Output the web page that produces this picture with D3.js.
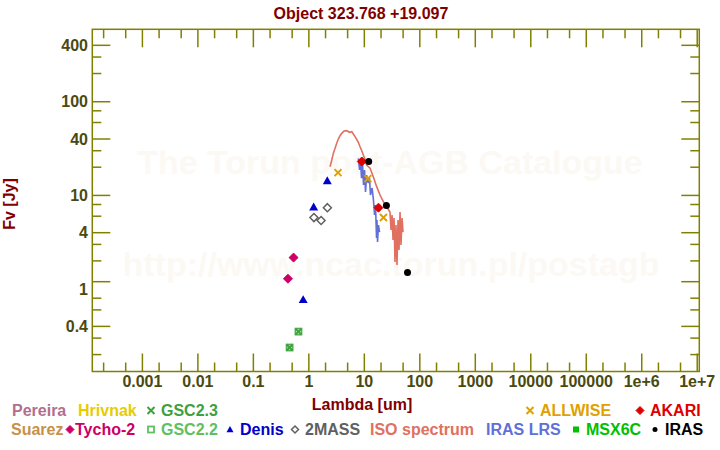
<!DOCTYPE html>
<html lang="en">
	<head>
		<meta charset="UTF-8" />
		<title>Object 323.768 +19.097</title>
		<script src="https://d3js.org/d3.v7.min.js"></script>
		<style>
			body { margin: 0; background: #fff; }
			text { font-family: "Liberation Sans", Arial, sans-serif; font-weight: bold; }
		</style>
	</head>
	<body></body>

	<script>
		var title = "Object 323.768 +19.097";

		// axes
		var xMajor = [1e-3, 1e-2, 1e-1, 1, 10, 100, 1e3, 1e4, 1e5, 1e6, 1e7];
		var xTickLabels = ["0.001", "0.01", "0.1", "1", "10", "100", "1000", "10000", "100000", "1e+6", "1e+7"];
		var yMajor = [400, 100, 40, 10, 4, 1.2, 0.4];
		var yMinor = [300, 200, 80, 60, 30, 20, 8, 6, 3, 2, 0.8, 0.6, 0.3, 0.2];
		var yLabelValues = [400, 100, 40, 10, 4, 1, 0.4];
		var yTickLabels = ["400", "100", "40", "10", "4", "1", "0.4"];

		// photometry (wavelength um, flux Jy)
		var tychoWave = [0.42, 0.53];
		var tychoFlux = [1.29, 2.17];
		var gscWave = [0.45, 0.65];
		var gsc22Flux = [0.238, 0.352];
		var gsc23Flux = [0.238, 0.352];
		var denisWave = [0.79, 1.22, 2.15];
		var denisFlux = [0.77, 7.5, 14.3];
		var twomassWave = [1.235, 1.662, 2.159];
		var twomassFlux = [5.8, 5.4, 7.4];
		var allwiseWave = [3.35, 11.56, 22.09];
		var allwiseFlux = [17.5, 15.1, 5.8];
		var akariWave = [9, 18];
		var akariFlux = [23, 7.4];
		var irasWave = [12, 25, 60];
		var irasFlux = [23, 7.8, 1.5];

		// spectra
		var isoWave = [2.41, 2.59, 2.76, 2.97, 3.18, 3.40, 3.65, 3.92, 4.31, 4.82, 5.37, 5.93, 6.34, 6.80, 7.29, 7.80, 8.37, 8.98, 9.59, 10.3, 11.0, 12.7, 14.5, 16.7, 19.2, 22.0, 25.3, 29.0, 30.3, 31.6, 32.9, 34.3, 35.7, 37.2, 38.8, 40.5, 42.2, 44.0, 45.8, 47.8, 49.8];
		var isoFlux = [20.2, 23.9, 28.1, 31.8, 36.0, 40.0, 43.4, 46.0, 48.7, 49.1, 47.2, 47.8, 45.2, 42.4, 39.7, 36.9, 33.1, 30.0, 27.0, 24.3, 21.1, 19.5, 15.8, 12.4, 10.1, 8.57, 7.57, 6.65, 4.27, 6.18, 3.34, 5.74, 1.95, 4.83, 1.81, 5.47, 2.61, 6.65, 2.96, 5.74, 4.06];
		var lrsWave = [7.8, 8.2, 8.55, 8.9, 9.28, 9.68, 10.1, 10.5, 11.0, 11.7, 12.4, 12.9, 13.8, 14.6, 15.3, 15.9, 16.6, 16.9, 17.3, 18.0, 18.8];
		var lrsFlux = [24.9, 18.7, 22.7, 15.3, 21.6, 12.9, 18.7, 10.9, 16.5, 13.6, 15.3, 10.1, 12.0, 8.93, 6.18, 7.91, 3.52, 5.47, 3.18, 4.83, 4.06];

		var legendRow1 = [
			{ name: "Pereira", color: "#b0708c", x: 12 },
			{ name: "Hrivnak", color: "#e6cc00", x: 78 },
			{ name: "GSC2.3", color: "#40a040", x: 161, mark: "cross" },
			{ name: "ALLWISE", color: "#e0a000", x: 540, mark: "cross" },
			{ name: "AKARI", color: "#dd0000", x: 650, mark: "diamond" }
		];
		var legendRow2 = [
			{ name: "Suarez", color: "#c8904a", x: 11 },
			{ name: "Tycho-2", color: "#cc0066", x: 75, mark: "diamond", gap: 5 },
			{ name: "GSC2.2", color: "#60c060", x: 161, mark: "square" },
			{ name: "Denis", color: "#0000cc", x: 240, mark: "triangle" },
			{ name: "2MASS", color: "#606060", x: 305, mark: "odiamond" },
			{ name: "ISO spectrum", color: "#e07060", x: 370 },
			{ name: "IRAS LRS", color: "#6070d8", x: 486 },
			{ name: "MSX6C", color: "#00c000", x: 586, mark: "fsquare" },
			{ name: "IRAS", color: "#000000", x: 665, mark: "circle" }
		];

		var W = 720, H = 450;
		var axisColor = "#808000", labelColor = "#4a4a10", titleColor = "#800000";
		var x0 = 92.3, x1 = 699.3, y0 = 29.3, y1 = 371.5;

		var xScale = d3.scaleLog().domain([1.25e-4, 1.09e7]).range([x0, x1]);
		var yScale = d3.scaleLog().domain([0.132, 593]).range([y1, y0]);

		var svg = d3.select("body").append("svg")
			.attr("width", W)
			.attr("height", H);

		// watermark
		svg.append("text")
			.attr("x", 390).attr("y", 174)
			.attr("text-anchor", "middle")
			.attr("font-size", 34)
			.attr("fill", "#fcf9f4")
			.text("The Torun post-AGB Catalogue");
		svg.append("text")
			.attr("x", 391).attr("y", 276)
			.attr("text-anchor", "middle")
			.attr("font-size", 34)
			.attr("fill", "#fcf9f4")
			.text("http://www.ncac.torun.pl/postagb");

		// frame
		svg.append("rect")
			.attr("x", x0).attr("y", y0)
			.attr("width", x1 - x0).attr("height", y1 - y0)
			.attr("fill", "none")
			.attr("stroke", axisColor)
			.attr("stroke-width", 1.5);

		var xMinor = [];
		xMajor.concat([1e-4]).forEach(function (d) {
			[2, 5].forEach(function (m) {
				var v = d * m;
				if (v > xScale.domain()[0] && v < xScale.domain()[1]) xMinor.push(v);
			});
		});

		var ticks = svg.append("g").attr("stroke", axisColor).attr("stroke-width", 1.5);
		[[xMajor, 18], [xMinor, 9]].forEach(function (set) {
			set[0].forEach(function (v) {
				var px = xScale(v);
				ticks.append("line").attr("x1", px).attr("x2", px).attr("y1", y1).attr("y2", y1 - set[1]);
				ticks.append("line").attr("x1", px).attr("x2", px).attr("y1", y0).attr("y2", y0 + set[1]);
			});
		});
		[[yMajor, 18], [yMinor, 9]].forEach(function (set) {
			set[0].forEach(function (v) {
				var py = yScale(v);
				ticks.append("line").attr("y1", py).attr("y2", py).attr("x1", x0).attr("x2", x0 + set[1]);
				ticks.append("line").attr("y1", py).attr("y2", py).attr("x1", x1).attr("x2", x1 - set[1]);
			});
		});

		// tick labels
		svg.append("g").selectAll("text")
			.data(xMajor)
			.enter().append("text")
			.attr("x", function (d) { return xScale(d); })
			.attr("y", 387)
			.attr("text-anchor", "middle")
			.attr("font-size", 16)
			.attr("fill", labelColor)
			.text(function (d, i) { return xTickLabels[i]; });

		svg.append("g").selectAll("text")
			.data(yLabelValues)
			.enter().append("text")
			.attr("x", 88)
			.attr("y", function (d) { return yScale(d); })
			.attr("dy", "0.36em")
			.attr("text-anchor", "end")
			.attr("font-size", 16)
			.attr("fill", labelColor)
			.text(function (d, i) { return yTickLabels[i]; });

		// titles
		svg.append("text")
			.attr("x", 361).attr("y", 19)
			.attr("text-anchor", "middle")
			.attr("font-size", 16)
			.attr("fill", titleColor)
			.text(title);
		svg.append("text")
			.attr("x", 362).attr("y", 410)
			.attr("text-anchor", "middle")
			.attr("font-size", 16)
			.attr("fill", titleColor)
			.text("Lambda [um]");
		svg.append("text")
			.attr("transform", "translate(15,204) rotate(-90)")
			.attr("text-anchor", "middle")
			.attr("font-size", 16)
			.attr("fill", titleColor)
			.text("Fv [Jy]");

		// marker shapes
		function drawMark(g, type, cx, cy, r, color) {
			if (type === "cross") {
				g.append("path")
					.attr("d", "M" + (cx - r) + "," + (cy - r) + "L" + (cx + r) + "," + (cy + r) +
						"M" + (cx - r) + "," + (cy + r) + "L" + (cx + r) + "," + (cy - r))
					.attr("stroke", color).attr("stroke-width", 2).attr("fill", "none");
			} else if (type === "diamond" || type === "odiamond") {
				g.append("path")
					.attr("d", "M" + cx + "," + (cy - r) + "L" + (cx + r) + "," + cy + "L" + cx + "," + (cy + r) + "L" + (cx - r) + "," + cy + "Z")
					.attr("fill", type === "diamond" ? color : "#fff")
					.attr("stroke", color).attr("stroke-width", type === "diamond" ? 1 : 1.5);
			} else if (type === "triangle") {
				g.append("path")
					.attr("d", "M" + cx + "," + (cy - r) + "L" + (cx + r) + "," + (cy + r * 0.75) + "L" + (cx - r) + "," + (cy + r * 0.75) + "Z")
					.attr("fill", color);
			} else if (type === "square" || type === "fsquare") {
				g.append("rect")
					.attr("x", cx - r).attr("y", cy - r).attr("width", 2 * r).attr("height", 2 * r)
					.attr("fill", type === "fsquare" ? color : "none")
					.attr("stroke", color).attr("stroke-width", type === "fsquare" ? 0 : 1.8);
			} else if (type === "circle") {
				g.append("circle").attr("cx", cx).attr("cy", cy).attr("r", r).attr("fill", color);
			}
		}

		// spectra
		var line = d3.line()
			.x(function (d) { return xScale(d[0]); })
			.y(function (d) { return yScale(d[1]); });

		svg.append("path")
			.datum(d3.zip(isoWave, isoFlux))
			.attr("fill", "none")
			.attr("stroke", "#e07060")
			.attr("stroke-width", 1.6)
			.attr("d", line);

		svg.append("path")
			.datum(d3.zip(lrsWave, lrsFlux))
			.attr("fill", "none")
			.attr("stroke", "#6070d8")
			.attr("stroke-width", 1.6)
			.attr("d", line);

		// photometry
		var pts = svg.append("g");
		function series(wave, flux, type, r, color) {
			wave.forEach(function (w, i) {
				drawMark(pts, type, xScale(w), yScale(flux[i]), r, color);
			});
		}
		series(gscWave, gsc22Flux, "square", 3, "#50b050");
		series(gscWave, gsc23Flux, "cross", 3, "#40a040");
		series(tychoWave, tychoFlux, "diamond", 4.5, "#cc0066");
		series(denisWave, denisFlux, "triangle", 4.5, "#0000cc");
		series(twomassWave, twomassFlux, "odiamond", 4, "#606060");
		series(allwiseWave, allwiseFlux, "cross", 3.5, "#e0a000");
		series(akariWave, akariFlux, "diamond", 4.5, "#dd0000");
		series(irasWave, irasFlux, "circle", 3.5, "#000000");

		// legend
		var legend = svg.append("g");
		[[legendRow1, 416], [legendRow2, 435]].forEach(function (row) {
			row[0].forEach(function (item) {
				legend.append("text")
					.attr("x", item.x).attr("y", row[1])
					.attr("font-size", 16)
					.attr("fill", item.color)
					.text(item.name);
				if (item.mark) {
					var mx = item.x - (item.gap || 10);
					var my = row[1] - 5.5;
					var r = { cross: 3.5, diamond: 4, odiamond: 3.5, square: 3, fsquare: 3, triangle: 3.5, circle: 2.5 }[item.mark];
					drawMark(legend, item.mark, mx, my, r, item.color);
				}
			});
		});
	</script>
</html>
